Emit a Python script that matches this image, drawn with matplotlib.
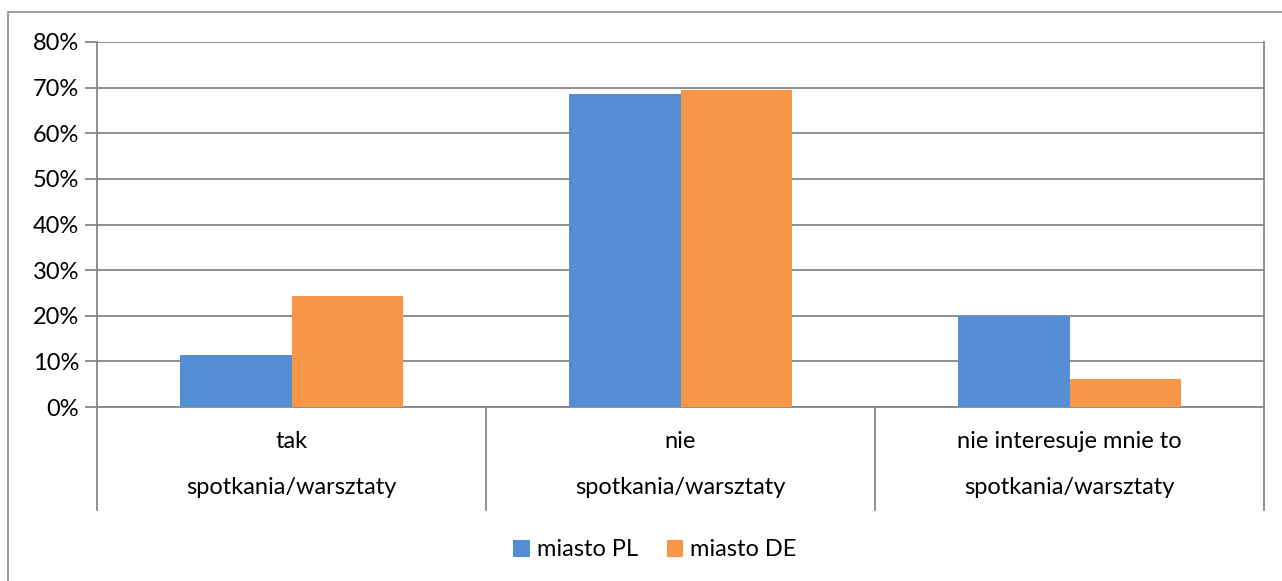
import matplotlib.pyplot as plt
from matplotlib.patches import Rectangle
from matplotlib.lines import Line2D
from matplotlib.ticker import PercentFormatter
import numpy as np

plt.rcParams['font.family'] = ['Lato', 'DejaVu Sans']

categories = ["tak", "nie", "nie interesuje mnie to"]
group_label = "spotkania/warsztaty"
series_names = ["miasto PL", "miasto DE"]
pl_values = [11.4, 68.5, 20.0]
de_values = [24.3, 69.5, 6.2]
colors = ["#558ED5", "#F79646"]
grid_col = "#868686"
fs = 17

W, H = 1282, 581
fig = plt.figure(figsize=(W / 100, H / 100), dpi=100)

# plot area in pixels
x0, x1, y_top, y_bot = 97, 1264, 42, 407
ax = fig.add_axes([x0 / W, 1 - y_bot / H, (x1 - x0) / W, (y_bot - y_top) / H])

# outer chart frame (cut off at right/bottom)
fig.patches.append(Rectangle((8 / W, -0.1), 1.2, 1 - 12 / H + 0.1,
                             transform=fig.transFigure, fill=False,
                             edgecolor="#8c8c8c", linewidth=1.2))

x = np.arange(len(categories))
bw = 1 / 3.5
ax.bar(x - bw / 2, pl_values, bw, color=colors[0], label=series_names[0], zorder=3)
ax.bar(x + bw / 2, de_values, bw, color=colors[1], label=series_names[1], zorder=3)

ax.set_xlim(-0.5, 2.5)
ax.set_ylim(0, 80)
ax.set_yticks(np.arange(0, 81, 10))
ax.yaxis.set_major_formatter(PercentFormatter(decimals=0))
ax.tick_params(axis="y", length=9, width=1.3, color=grid_col, labelsize=fs, pad=4)
ax.tick_params(axis="x", length=0, labelbottom=False)
ax.grid(axis="y", color=grid_col, linewidth=1.3, zorder=0)
ax.spines["top"].set_visible(False)
for s in ["left", "right", "bottom"]:
    ax.spines[s].set_color(grid_col)
    ax.spines[s].set_linewidth(1.3)

# multi-level category axis
ext = (510 - y_bot) / (y_bot - y_top)
for xb in [-0.5, 0.5, 1.5, 2.5]:
    ax.add_line(Line2D([xb, xb], [0, -ext], transform=ax.get_xaxis_transform(),
                       color=grid_col, linewidth=1.3, clip_on=False))
lab1 = -(441 - y_bot) / (y_bot - y_top)
lab2 = -(487 - y_bot) / (y_bot - y_top)
for xi, c in zip(x, categories):
    ax.text(xi, lab1, c, transform=ax.get_xaxis_transform(), ha="center", va="center", fontsize=fs)
    ax.text(xi, lab2, group_label, transform=ax.get_xaxis_transform(), ha="center", va="center", fontsize=fs)

fig.legend(loc="center", bbox_to_anchor=(655 / W, 1 - 550 / H), ncol=2, frameon=False,
           fontsize=fs, handlelength=0.7, handleheight=0.7, handletextpad=0.3,
           columnspacing=1.2)

fig.savefig("out.png", dpi=100)
